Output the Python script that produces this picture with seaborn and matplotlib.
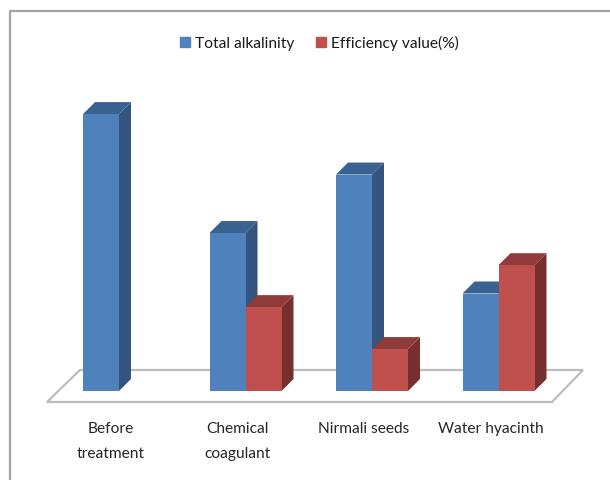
import matplotlib
matplotlib.use('Agg')
import matplotlib.pyplot as plt
import matplotlib.transforms as mtrans
from matplotlib.patches import Polygon
from matplotlib.lines import Line2D
import pandas as pd
import seaborn as sns

categories = ['Before\ntreatment', 'Chemical\ncoagulant', 'Nirmali seeds', 'Water hyacinth']
total_alkalinity = [142, 81, 111, 50]
efficiency = [0, 43, 21.5, 64.5]
series_names = ['Total alkalinity', 'Efficiency value(%)']

W, H = 610, 480
BASE_Y = 391                # pixel row of the bar feet
PX_PER_CAT = 126.5
PX_PER_UNIT = 1.95
FIRST_CAT_X = 119
DEPTH = 12                  # pixel depth of the fake 3d

front_cols = ['#4F81BD', '#C0504D']
side_cols = ['#33557F', '#772F2D']
top_cols = ['#3A6291', '#8F3B39']
GRID_GREY = '#BDBDBD'
FRAME_GREY = '#A3A3A3'

sns.set_theme(style='white')
plt.rcParams['font.family'] = ['Lato', 'DejaVu Sans']

df = pd.DataFrame({
    'category': categories * 2,
    'series': [series_names[0]] * 4 + [series_names[1]] * 4,
    'value': total_alkalinity + efficiency,
})

fig = plt.figure(figsize=(W / 100, H / 100), dpi=100)
ax = fig.add_axes([0, (H - BASE_Y) / H, 1, BASE_Y / H])
ax.patch.set_alpha(0)

sns.barplot(data=df, x='category', y='value', hue='series', order=categories,
            hue_order=series_names, palette=front_cols, width=72 / PX_PER_CAT,
            saturation=1, gap=0, linewidth=0, ax=ax, legend=False)

ax.set_xlim(-FIRST_CAT_X / PX_PER_CAT, (W - FIRST_CAT_X) / PX_PER_CAT)
ax.set_ylim(0, BASE_Y / PX_PER_UNIT)


def fig_px(points):
    return [(x / W, 1 - y / H) for x, y in points]


# floor and outer frame
floor = Polygon(fig_px([(47, 402), (80, 370), (583, 370), (552, 402)]), closed=True,
                transform=fig.transFigure, facecolor='white', edgecolor=GRID_GREY,
                linewidth=1.6, clip_on=False, zorder=1)
ax.add_patch(floor)
fig.add_artist(Line2D([10 / W, 10 / W, 1], [0, 1 - 11 / H, 1 - 11 / H],
                      color=FRAME_GREY, linewidth=1.6))

# side and top faces of every bar, built from what seaborn drew
dx = DEPTH / PX_PER_CAT
dy = DEPTH / PX_PER_UNIT
for s, container in enumerate(ax.containers):
    for bar in container:
        bar.set_zorder(4)
        h = bar.get_height()
        if h == 0:
            continue
        x0 = bar.get_x()
        x1 = x0 + bar.get_width()
        side = Polygon([(x1, 0), (x1 + dx, dy), (x1 + dx, h + dy), (x1, h)],
                       facecolor=side_cols[s], edgecolor='none', zorder=3)
        top = Polygon([(x0, h), (x0 + dx, h + dy), (x1 + dx, h + dy), (x1, h)],
                      facecolor=top_cols[s], edgecolor='none', zorder=3)
        ax.add_patch(side)
        ax.add_patch(top)

ax.set_xlabel('')
ax.set_ylabel('')
ax.set_yticks([])
ax.tick_params(axis='x', length=0, pad=22, labelsize=11.2, colors='#262626')
shift = mtrans.ScaledTranslation(-8 / 100, 0, fig.dpi_scale_trans)
for lab in ax.get_xticklabels():
    lab.set_transform(lab.get_transform() + shift)
    lab.set_linespacing(2.05)
sns.despine(ax=ax, left=True, bottom=True)

handles = [plt.Rectangle((0, 0), 1, 1, color=c) for c in front_cols]
ax.legend(handles, series_names, ncol=2, frameon=False, loc='center',
          bbox_to_anchor=(319.5 / W, 1 - 43 / H), bbox_transform=fig.transFigure,
          fontsize=11.2, handlelength=0.65, handleheight=0.65, handletextpad=0.3,
          columnspacing=1.4, labelcolor='#1A1A1A')

fig.savefig('out.png', dpi=100)
